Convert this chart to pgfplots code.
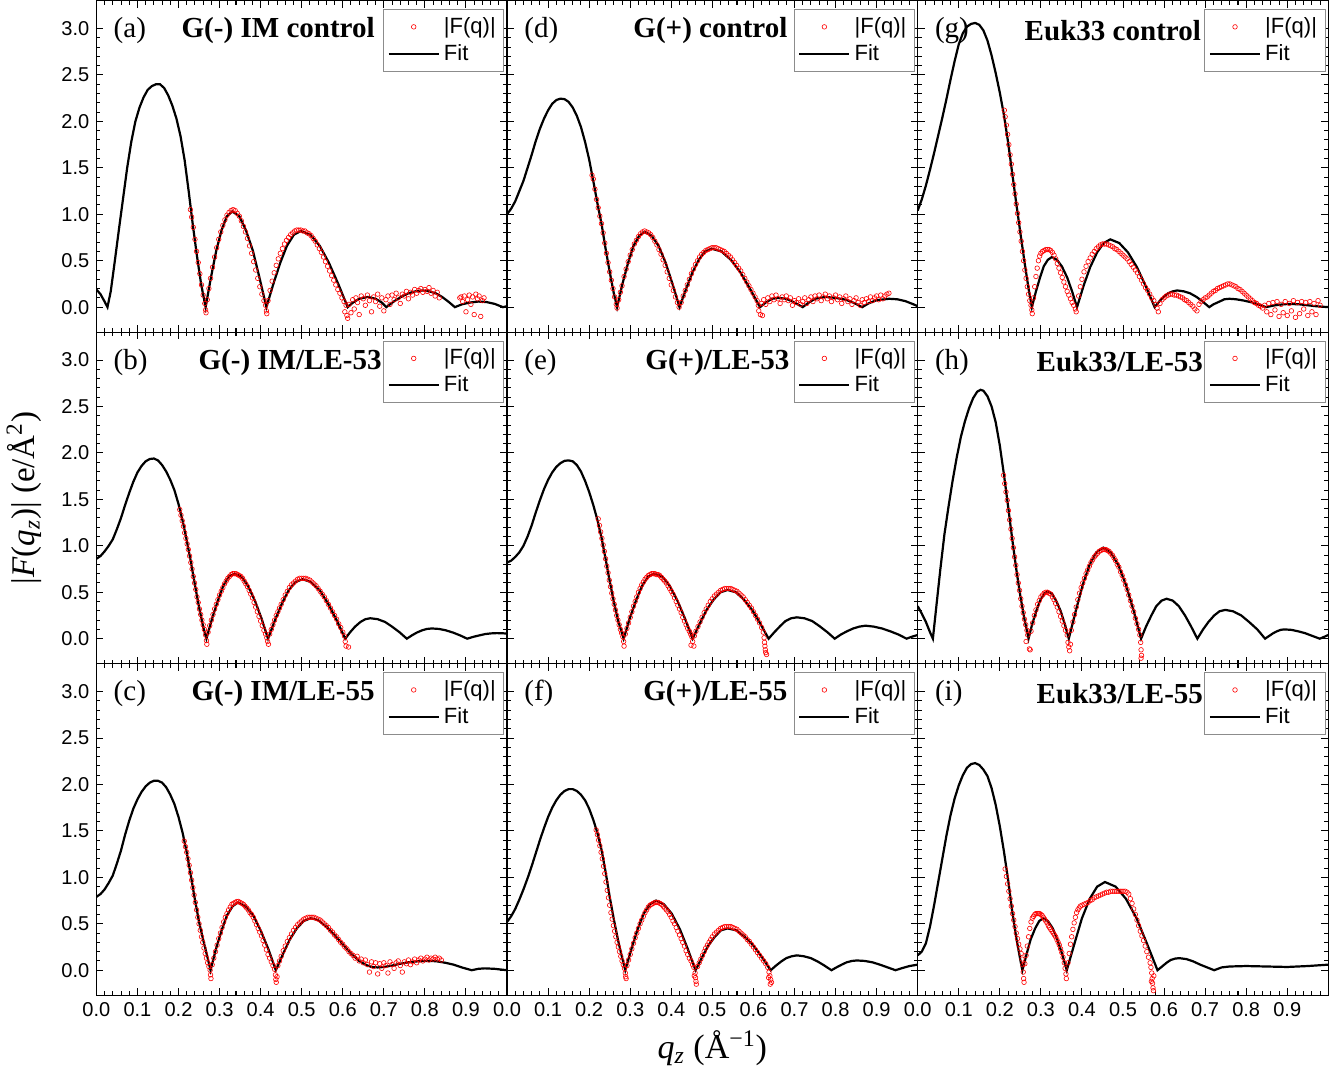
\documentclass[border=0pt]{standalone}
\usepackage{fontspec}
\setmainfont{Liberation Serif}
\newfontfamily\arial{Liberation Sans}
\usepackage{pgfplots}
\pgfplotsset{compat=1.18}
\usepgfplotslibrary{groupplots}

\pgfplotsset{
  panel/.style={
    width=205pt, height=165.5pt, scale only axis,
    xmin=0, xmax=1, ymin=-0.27, ymax=3.3,
    xtick={0,0.1,0.2,0.3,0.4,0.5,0.6,0.7,0.8,0.9,1.0},
    ytick={0,0.5,1.0,1.5,2.0,2.5,3.0},
    minor x tick num=4, minor y tick num=4,
    tick align=inside, major tick length=3.5pt, minor tick length=2pt,
    axis line style={line width=0.7pt},
    tick style={black, line width=0.5pt},
    tick label style={font=\arial\fontsize{10}{12}\selectfont},
    xticklabels={}, yticklabels={},
    legend cell align=left,
    legend style={at={(0.993,0.975)}, anchor=north east, draw=black!45,
      line width=0.4pt, fill=white, font=\arial\fontsize{11}{13}\selectfont,
      inner xsep=2pt, inner ysep=2pt, row sep=0pt},
    legend image code/.code={\draw[mark repeat=2,mark phase=2,##1]
      plot coordinates {(0cm,0cm) (0.44cm,0cm) (0.88cm,0cm)};},
  },
  leftcol/.style={yticklabels={0.0,0.5,1.0,1.5,2.0,2.5,3.0}},
  bottomrow/.style={xticklabels={0.0,0.1,0.2,0.3,0.4,0.5,0.6,0.7,0.8,0.9,{}}},
  fq/.style={only marks, mark=o, mark size=1.15pt, red, mark options={line width=0.3pt}},
  fit/.style={black, line width=1.1pt, mark=none},
}
\newcommand{\paneltext}[3]{%
  \node[anchor=west, font=\fontsize{14.5}{16}\selectfont] at (rel axis cs:0.025,0.91) {#1};
  \node[anchor=east, font=\bfseries\fontsize{14.5}{16}\selectfont] at (rel axis cs:#3,0.91) {#2};}

\begin{document}
\begin{tikzpicture}
\begin{groupplot}[group style={group size=3 by 3, horizontal sep=0pt, vertical sep=0pt}, panel]

% (a)
\nextgroupplot[leftcol]
\addplot[fq] coordinates {(0.229,1.05) (0.232,0.97) (0.236,0.86) (0.240,0.73) (0.244,0.60) (0.248,0.48) (0.252,0.36) (0.256,0.24) (0.260,0.13) (0.264,0.04) (0.266,-0.03) (0.267,-0.06) (0.270,0.08) (0.274,0.20) (0.278,0.31) (0.283,0.43) (0.288,0.54) (0.293,0.64) (0.298,0.73) (0.303,0.81) (0.308,0.88) (0.313,0.94) (0.318,0.99) (0.323,1.02) (0.328,1.04) (0.333,1.05) (0.338,1.04) (0.343,1.01) (0.348,0.98) (0.353,0.93) (0.358,0.87) (0.363,0.81) (0.368,0.74) (0.373,0.66) (0.378,0.58) (0.383,0.49) (0.388,0.40) (0.393,0.31) (0.398,0.22) (0.403,0.14) (0.408,0.07) (0.412,0.02) (0.414,-0.04) (0.415,-0.07) (0.418,0.07) (0.423,0.18) (0.428,0.28) (0.433,0.37) (0.438,0.45) (0.443,0.52) (0.448,0.58) (0.453,0.63) (0.458,0.68) (0.463,0.72) (0.468,0.75) (0.473,0.78) (0.478,0.80) (0.483,0.82) (0.488,0.83) (0.493,0.83) (0.498,0.83) (0.503,0.82) (0.508,0.82) (0.513,0.80) (0.518,0.79) (0.523,0.77) (0.528,0.74) (0.533,0.71) (0.538,0.67) (0.543,0.63) (0.548,0.59) (0.553,0.54) (0.558,0.49) (0.563,0.44) (0.568,0.39) (0.573,0.34) (0.578,0.29) (0.583,0.24) (0.588,0.19) (0.593,0.15) (0.598,0.10) (0.603,0.06) (0.608,0.02) (0.605,-0.05) (0.610,-0.09) (0.612,-0.12) (0.615,0.03) (0.620,-0.06) (0.624,0.08) (0.628,-0.02) (0.632,0.10) (0.636,0.05) (0.640,-0.08) (0.645,0.12) (0.650,0.09) (0.655,0.02) (0.660,0.13) (0.665,0.07) (0.670,-0.05) (0.675,0.11) (0.680,0.06) (0.685,0.14) (0.690,0.01) (0.695,0.10) (0.700,-0.04) (0.705,0.08) (0.710,0.12) (0.715,0.03) (0.720,0.13) (0.725,0.08) (0.730,0.15) (0.735,0.10) (0.740,0.04) (0.745,0.14) (0.750,0.12) (0.755,0.17) (0.760,0.09) (0.765,0.16) (0.770,0.13) (0.775,0.19) (0.780,0.15) (0.785,0.18) (0.790,0.20) (0.795,0.16) (0.800,0.19) (0.805,0.17) (0.810,0.21) (0.815,0.15) (0.820,0.18) (0.825,0.12) (0.830,0.16) (0.835,0.10) (0.885,0.10) (0.888,0.11) (0.892,0.06) (0.896,0.12) (0.900,-0.05) (0.904,0.08) (0.908,0.13) (0.912,0.03) (0.916,0.11) (0.920,-0.08) (0.924,0.14) (0.928,0.09) (0.932,0.12) (0.936,-0.10) (0.940,0.07) (0.944,0.10)};
\addplot[fit] coordinates {(0,0.19) (0.01,0.14) (0.02,0.06) (0.027,0) (0.035,0.17) (0.045,0.50) (0.055,0.84) (0.065,1.17) (0.075,1.50) (0.085,1.78) (0.095,2.00) (0.105,2.15) (0.115,2.26) (0.125,2.34) (0.135,2.38) (0.145,2.40) (0.155,2.40) (0.165,2.36) (0.175,2.28) (0.185,2.17) (0.195,2.03) (0.205,1.84) (0.215,1.58) (0.225,1.24) (0.235,0.88) (0.245,0.55) (0.255,0.25) (0.266,0) (0.279,0.32) (0.292,0.61) (0.305,0.83) (0.318,0.98) (0.331,1.03) (0.348,0.98) (0.364,0.83) (0.381,0.61) (0.397,0.32) (0.414,0) (0.431,0.25) (0.448,0.48) (0.464,0.66) (0.481,0.78) (0.498,0.82) (0.521,0.78) (0.544,0.66) (0.566,0.48) (0.589,0.25) (0.612,0) (0.625,0.05) (0.64,0.09) (0.661,0.11) (0.68,0.09) (0.695,0.05) (0.706,0) (0.724,0.06) (0.742,0.11) (0.76,0.15) (0.777,0.17) (0.795,0.18) (0.811,0.17) (0.826,0.15) (0.842,0.11) (0.857,0.06) (0.873,0) (0.89,0.03) (0.91,0.05) (0.93,0.06) (0.95,0.055) (0.97,0.035) (0.99,0) (1.0,0.01)};
\legend{|F(q)|,Fit}
\paneltext{(a)}{G(-) IM control}{0.695}
\node[anchor=south, inner sep=0pt, minimum height=3.5pt] at (rel axis cs:0.5,1) {};

% (d)
\nextgroupplot
\addplot[fq] coordinates {(0.207,1.42) (0.210,1.38) (0.214,1.27) (0.218,1.16) (0.222,1.07) (0.226,0.98) (0.230,0.90) (0.234,0.80) (0.238,0.69) (0.242,0.58) (0.246,0.48) (0.250,0.38) (0.254,0.29) (0.258,0.20) (0.262,0.11) (0.266,0.03) (0.268,-0.01) (0.272,0.08) (0.276,0.16) (0.280,0.23) (0.285,0.33) (0.290,0.41) (0.295,0.49) (0.300,0.56) (0.305,0.62) (0.310,0.68) (0.315,0.72) (0.320,0.76) (0.325,0.79) (0.330,0.81) (0.335,0.82) (0.340,0.81) (0.345,0.80) (0.350,0.78) (0.355,0.75) (0.360,0.71) (0.365,0.67) (0.370,0.62) (0.375,0.57) (0.380,0.51) (0.385,0.45) (0.390,0.38) (0.395,0.31) (0.400,0.24) (0.405,0.18) (0.410,0.11) (0.415,0.05) (0.419,0.0) (0.424,0.05) (0.429,0.12) (0.434,0.18) (0.439,0.24) (0.444,0.30) (0.449,0.36) (0.454,0.41) (0.459,0.46) (0.464,0.50) (0.469,0.54) (0.474,0.57) (0.479,0.59) (0.484,0.61) (0.489,0.62) (0.494,0.63) (0.499,0.64) (0.504,0.64) (0.509,0.64) (0.514,0.63) (0.519,0.62) (0.524,0.61) (0.529,0.60) (0.534,0.58) (0.539,0.56) (0.544,0.54) (0.549,0.51) (0.554,0.48) (0.559,0.45) (0.564,0.42) (0.569,0.39) (0.574,0.35) (0.579,0.31) (0.584,0.27) (0.589,0.23) (0.594,0.19) (0.599,0.15) (0.604,0.11) (0.609,0.07) (0.612,0.02) (0.613,-0.04) (0.617,-0.08) (0.622,-0.09) (0.620,0.04) (0.625,0.08) (0.630,0.03) (0.635,0.10) (0.640,0.06) (0.645,0.12) (0.650,0.08) (0.655,0.13) (0.660,0.09) (0.665,0.04) (0.670,0.11) (0.675,0.08) (0.680,0.12) (0.685,0.07) (0.690,0.10) (0.695,0.02) (0.700,0.07) (0.705,0.05) (0.710,0.09) (0.715,0.03) (0.720,0.06) (0.725,0.10) (0.730,0.04) (0.735,0.08) (0.740,0.11) (0.745,0.06) (0.750,0.12) (0.755,0.09) (0.760,0.13) (0.765,0.07) (0.770,0.11) (0.775,0.14) (0.780,0.09) (0.785,0.12) (0.790,0.06) (0.795,0.10) (0.800,0.13) (0.805,0.08) (0.810,0.11) (0.815,0.04) (0.820,0.09) (0.825,0.12) (0.830,0.06) (0.835,0.09) (0.840,0.03) (0.845,0.07) (0.850,0.10) (0.855,0.05) (0.860,0.02) (0.865,0.08) (0.870,0.05) (0.875,0.09) (0.880,0.06) (0.885,0.11) (0.890,0.07) (0.895,0.10) (0.900,0.12) (0.905,0.08) (0.910,0.13) (0.915,0.09) (0.920,0.12) (0.925,0.14) (0.930,0.15)};
\addplot[fit] coordinates {(0,1.00) (0.01,1.06) (0.02,1.14) (0.03,1.25) (0.04,1.36) (0.05,1.50) (0.06,1.64) (0.07,1.79) (0.08,1.92) (0.09,2.03) (0.10,2.12) (0.11,2.19) (0.12,2.23) (0.13,2.245) (0.14,2.24) (0.15,2.21) (0.16,2.15) (0.17,2.06) (0.18,1.94) (0.19,1.78) (0.20,1.59) (0.21,1.36) (0.22,1.12) (0.23,0.90) (0.24,0.63) (0.25,0.38) (0.26,0.15) (0.268,0) (0.281,0.25) (0.295,0.48) (0.308,0.66) (0.322,0.77) (0.335,0.81) (0.352,0.77) (0.369,0.66) (0.386,0.48) (0.403,0.25) (0.42,0) (0.436,0.195) (0.451,0.37) (0.467,0.51) (0.482,0.60) (0.498,0.63) (0.522,0.60) (0.545,0.51) (0.569,0.37) (0.592,0.195) (0.616,0) (0.63,0.05) (0.645,0.09) (0.661,0.10) (0.68,0.09) (0.70,0.05) (0.72,0) (0.735,0.05) (0.75,0.09) (0.775,0.11) (0.80,0.10) (0.825,0.08) (0.845,0.045) (0.865,0) (0.88,0.04) (0.90,0.075) (0.93,0.09) (0.95,0.085) (0.97,0.065) (0.99,0.03) (1.0,0.01)};
\legend{|F(q)|,Fit}
\paneltext{(d)}{G(+) control}{0.70}

% (g)
\nextgroupplot
\addplot[fq] coordinates {(0.211,2.12) (0.213,2.05) (0.216,1.96) (0.219,1.86) (0.222,1.75) (0.225,1.64) (0.228,1.54) (0.231,1.43) (0.234,1.32) (0.237,1.22) (0.240,1.11) (0.243,1.01) (0.246,0.91) (0.249,0.81) (0.252,0.71) (0.255,0.60) (0.258,0.50) (0.261,0.40) (0.264,0.31) (0.267,0.22) (0.270,0.14) (0.273,0.07) (0.276,0.02) (0.278,-0.03) (0.279,-0.07) (0.282,0.10) (0.285,0.22) (0.288,0.33) (0.291,0.42) (0.294,0.50) (0.297,0.55) (0.300,0.58) (0.304,0.60) (0.308,0.61) (0.312,0.62) (0.316,0.62) (0.320,0.62) (0.324,0.61) (0.328,0.59) (0.332,0.56) (0.336,0.52) (0.340,0.47) (0.344,0.42) (0.348,0.37) (0.352,0.32) (0.356,0.27) (0.360,0.22) (0.364,0.17) (0.368,0.13) (0.372,0.09) (0.376,0.05) (0.380,0.02) (0.384,-0.02) (0.386,-0.05) (0.392,0.12) (0.396,0.22) (0.400,0.30) (0.405,0.38) (0.410,0.44) (0.415,0.49) (0.420,0.53) (0.425,0.57) (0.430,0.60) (0.435,0.63) (0.440,0.65) (0.445,0.67) (0.450,0.68) (0.455,0.68) (0.460,0.68) (0.465,0.67) (0.470,0.66) (0.475,0.65) (0.480,0.63) (0.485,0.62) (0.490,0.60) (0.495,0.58) (0.500,0.56) (0.505,0.54) (0.510,0.52) (0.515,0.49) (0.520,0.46) (0.525,0.43) (0.530,0.40) (0.535,0.37) (0.540,0.33) (0.545,0.29) (0.550,0.25) (0.555,0.21) (0.560,0.18) (0.565,0.14) (0.570,0.10) (0.575,0.07) (0.580,0.03) (0.583,-0.01) (0.586,-0.05) (0.590,0.04) (0.595,0.08) (0.600,0.10) (0.605,0.12) (0.610,0.13) (0.615,0.14) (0.620,0.14) (0.625,0.13) (0.630,0.13) (0.635,0.12) (0.640,0.11) (0.645,0.10) (0.650,0.08) (0.655,0.07) (0.660,0.05) (0.665,0.03) (0.670,0.01) (0.675,-0.02) (0.680,-0.04) (0.685,0.03) (0.690,0.06) (0.695,0.08) (0.700,0.10) (0.705,0.11) (0.710,0.13) (0.715,0.15) (0.720,0.17) (0.725,0.18) (0.730,0.20) (0.735,0.21) (0.740,0.22) (0.745,0.23) (0.750,0.24) (0.755,0.25) (0.760,0.25) (0.765,0.24) (0.770,0.23) (0.775,0.22) (0.780,0.20) (0.785,0.19) (0.790,0.17) (0.795,0.15) (0.800,0.13) (0.805,0.11) (0.810,0.09) (0.815,0.07) (0.820,0.05) (0.825,0.04) (0.830,0.02) (0.835,0.01) (0.840,-0.01) (0.845,0.02) (0.850,-0.05) (0.855,0.04) (0.860,-0.08) (0.865,0.05) (0.870,-0.03) (0.875,0.06) (0.880,-0.10) (0.885,0.03) (0.890,-0.06) (0.895,0.06) (0.900,-0.09) (0.905,0.04) (0.910,-0.04) (0.915,0.07) (0.920,-0.11) (0.925,0.05) (0.930,-0.07) (0.935,0.06) (0.940,-0.02) (0.945,0.05) (0.950,-0.09) (0.955,0.06) (0.960,-0.05) (0.965,0.04) (0.970,-0.08) (0.975,0.07) (0.980,0.02)};
\addplot[fit] coordinates {(0,1.04) (0.01,1.16) (0.02,1.31) (0.03,1.48) (0.04,1.66) (0.05,1.85) (0.06,2.04) (0.07,2.24) (0.08,2.45) (0.09,2.65) (0.10,2.83) (0.11,2.95) (0.12,3.02) (0.13,3.05) (0.14,3.06) (0.15,3.04) (0.16,2.98) (0.17,2.87) (0.18,2.71) (0.19,2.52) (0.20,2.31) (0.21,2.07) (0.22,1.78) (0.23,1.45) (0.24,1.12) (0.25,0.80) (0.26,0.49) (0.27,0.20) (0.278,0) (0.288,0.17) (0.298,0.32) (0.307,0.44) (0.317,0.51) (0.327,0.54) (0.339,0.51) (0.351,0.44) (0.364,0.32) (0.376,0.17) (0.388,0) (0.404,0.23) (0.420,0.43) (0.437,0.59) (0.453,0.69) (0.469,0.73) (0.491,0.69) (0.512,0.59) (0.534,0.43) (0.555,0.23) (0.577,0) (0.588,0.06) (0.599,0.11) (0.61,0.15) (0.621,0.17) (0.632,0.18) (0.648,0.17) (0.663,0.15) (0.679,0.11) (0.694,0.06) (0.71,0) (0.72,0.03) (0.735,0.06) (0.747,0.085) (0.759,0.09) (0.775,0.085) (0.795,0.07) (0.815,0.05) (0.83,0.03) (0.848,0) (0.87,0.02) (0.89,0.03) (0.905,0.035) (0.93,0.03) (0.95,0.02) (0.97,0.01) (1.0,0.0)};
\legend{|F(q)|,Fit}
\paneltext{(g)}{Euk33 control}{0.707}

% (b)
\nextgroupplot[leftcol, ylabel={|\textit{F}(\textit{q}\textsubscript{\textit{z}})| (e/Å\textsuperscript{2})}, ylabel style={font=\fontsize{16.5}{18}\selectfont}, ylabel shift=3pt]
\addplot[fq] coordinates {(0.203,1.39) (0.206,1.33) (0.209,1.27) (0.212,1.21) (0.215,1.14) (0.218,1.08) (0.221,1.02) (0.224,0.96) (0.227,0.89) (0.230,0.82) (0.233,0.75) (0.236,0.67) (0.239,0.60) (0.242,0.53) (0.245,0.45) (0.248,0.39) (0.251,0.32) (0.254,0.26) (0.257,0.20) (0.260,0.15) (0.263,0.10) (0.266,0.04) (0.268,-0.02) (0.269,-0.06) (0.272,0.07) (0.276,0.14) (0.280,0.20) (0.284,0.26) (0.288,0.32) (0.292,0.37) (0.296,0.42) (0.300,0.47) (0.304,0.51) (0.308,0.55) (0.312,0.59) (0.316,0.62) (0.320,0.65) (0.324,0.67) (0.328,0.69) (0.332,0.70) (0.336,0.70) (0.340,0.70) (0.344,0.69) (0.348,0.68) (0.352,0.67) (0.356,0.65) (0.360,0.62) (0.364,0.59) (0.368,0.56) (0.372,0.52) (0.376,0.48) (0.380,0.44) (0.384,0.39) (0.388,0.34) (0.392,0.29) (0.396,0.24) (0.400,0.19) (0.404,0.14) (0.408,0.09) (0.412,0.05) (0.415,0.01) (0.417,-0.03) (0.419,-0.06) (0.422,0.05) (0.426,0.10) (0.430,0.15) (0.434,0.20) (0.438,0.25) (0.442,0.29) (0.446,0.33) (0.450,0.37) (0.455,0.42) (0.460,0.47) (0.465,0.51) (0.470,0.55) (0.475,0.58) (0.480,0.60) (0.485,0.62) (0.490,0.64) (0.495,0.65) (0.500,0.65) (0.505,0.65) (0.510,0.65) (0.515,0.64) (0.520,0.63) (0.525,0.61) (0.530,0.59) (0.535,0.57) (0.540,0.54) (0.545,0.51) (0.550,0.48) (0.555,0.45) (0.560,0.41) (0.565,0.37) (0.570,0.33) (0.575,0.29) (0.580,0.25) (0.585,0.21) (0.590,0.16) (0.595,0.12) (0.600,0.07) (0.604,0.03) (0.606,-0.03) (0.608,-0.08) (0.614,-0.09)};
\addplot[fit] coordinates {(0,0.86) (0.01,0.89) (0.02,0.94) (0.03,1.00) (0.04,1.07) (0.05,1.18) (0.06,1.30) (0.07,1.44) (0.08,1.57) (0.09,1.69) (0.10,1.79) (0.11,1.86) (0.12,1.91) (0.13,1.935) (0.14,1.94) (0.15,1.92) (0.16,1.87) (0.17,1.80) (0.18,1.71) (0.19,1.60) (0.20,1.45) (0.21,1.27) (0.22,1.06) (0.23,0.83) (0.24,0.58) (0.25,0.34) (0.26,0.13) (0.268,0) (0.282,0.22) (0.296,0.41) (0.309,0.57) (0.323,0.67) (0.337,0.70) (0.353,0.67) (0.369,0.57) (0.386,0.41) (0.402,0.22) (0.418,0) (0.435,0.20) (0.452,0.38) (0.468,0.52) (0.485,0.61) (0.502,0.64) (0.523,0.61) (0.544,0.52) (0.564,0.38) (0.585,0.20) (0.606,0) (0.618,0.07) (0.630,0.13) (0.643,0.18) (0.655,0.21) (0.667,0.22) (0.685,0.21) (0.703,0.18) (0.720,0.13) (0.738,0.07) (0.756,0) (0.768,0.035) (0.78,0.065) (0.793,0.09) (0.805,0.105) (0.817,0.11) (0.834,0.105) (0.851,0.09) (0.869,0.065) (0.886,0.035) (0.903,0) (0.918,0.02) (0.932,0.035) (0.947,0.05) (0.961,0.057) (0.975,0.06) (0.99,0.058) (1.0,0.055)};
\legend{|F(q)|,Fit}
\paneltext{(b)}{G(-) IM/LE-53}{0.712}

% (e)
\nextgroupplot
\addplot[fq] coordinates {(0.222,1.29) (0.225,1.22) (0.228,1.15) (0.231,1.08) (0.234,1.01) (0.237,0.94) (0.240,0.86) (0.243,0.78) (0.246,0.71) (0.249,0.63) (0.252,0.56) (0.255,0.49) (0.258,0.43) (0.261,0.37) (0.264,0.31) (0.267,0.25) (0.270,0.20) (0.273,0.15) (0.276,0.10) (0.279,0.06) (0.282,0.02) (0.284,-0.03) (0.285,-0.08) (0.288,0.05) (0.292,0.11) (0.296,0.17) (0.300,0.23) (0.304,0.29) (0.308,0.35) (0.312,0.40) (0.316,0.45) (0.320,0.50) (0.324,0.54) (0.328,0.58) (0.332,0.61) (0.336,0.64) (0.340,0.66) (0.344,0.68) (0.348,0.69) (0.352,0.70) (0.356,0.70) (0.360,0.70) (0.364,0.69) (0.368,0.69) (0.372,0.68) (0.376,0.66) (0.380,0.64) (0.384,0.62) (0.388,0.60) (0.392,0.57) (0.396,0.54) (0.400,0.51) (0.404,0.48) (0.408,0.44) (0.412,0.40) (0.416,0.36) (0.420,0.32) (0.424,0.28) (0.428,0.23) (0.432,0.19) (0.436,0.15) (0.440,0.11) (0.444,0.08) (0.447,0.05) (0.450,0.02) (0.452,-0.03) (0.455,-0.08) (0.448,-0.07) (0.456,0.03) (0.460,0.08) (0.465,0.13) (0.470,0.18) (0.475,0.23) (0.480,0.28) (0.485,0.32) (0.490,0.36) (0.495,0.40) (0.500,0.43) (0.505,0.46) (0.510,0.48) (0.515,0.50) (0.520,0.52) (0.525,0.53) (0.530,0.54) (0.535,0.54) (0.540,0.54) (0.545,0.54) (0.550,0.53) (0.555,0.52) (0.560,0.51) (0.565,0.49) (0.570,0.47) (0.575,0.45) (0.580,0.42) (0.585,0.39) (0.590,0.36) (0.595,0.33) (0.600,0.29) (0.605,0.25) (0.610,0.21) (0.615,0.17) (0.620,0.12) (0.624,0.07) (0.626,0.01) (0.627,-0.04) (0.628,-0.08) (0.629,-0.12) (0.630,-0.15) (0.632,-0.17)};
\addplot[fit] coordinates {(0,0.82) (0.01,0.84) (0.02,0.88) (0.03,0.93) (0.04,1.00) (0.05,1.10) (0.06,1.22) (0.07,1.36) (0.08,1.49) (0.09,1.61) (0.10,1.71) (0.11,1.79) (0.12,1.85) (0.13,1.89) (0.14,1.915) (0.15,1.92) (0.16,1.91) (0.17,1.87) (0.18,1.80) (0.19,1.70) (0.20,1.58) (0.21,1.44) (0.22,1.28) (0.23,1.09) (0.24,0.86) (0.25,0.62) (0.26,0.40) (0.27,0.20) (0.284,0) (0.299,0.22) (0.314,0.41) (0.329,0.57) (0.344,0.67) (0.359,0.70) (0.378,0.67) (0.396,0.57) (0.415,0.41) (0.433,0.22) (0.452,0) (0.469,0.16) (0.486,0.31) (0.503,0.42) (0.520,0.50) (0.537,0.525) (0.557,0.50) (0.577,0.42) (0.597,0.31) (0.617,0.16) (0.637,0) (0.651,0.07) (0.665,0.135) (0.678,0.19) (0.692,0.22) (0.706,0.23) (0.724,0.22) (0.743,0.19) (0.761,0.135) (0.780,0.07) (0.798,0) (0.813,0.045) (0.828,0.08) (0.843,0.11) (0.858,0.13) (0.873,0.14) (0.893,0.13) (0.913,0.11) (0.933,0.08) (0.953,0.045) (0.973,0) (0.985,0.02) (1.0,0.04)};
\legend{|F(q)|,Fit}
\paneltext{(e)}{G(+)/LE-53}{0.705}

% (h)
\nextgroupplot
\addplot[fq] coordinates {(0.209,1.76) (0.212,1.67) (0.215,1.58) (0.218,1.49) (0.221,1.38) (0.224,1.28) (0.227,1.18) (0.230,1.08) (0.233,0.98) (0.236,0.88) (0.239,0.79) (0.242,0.69) (0.245,0.60) (0.248,0.52) (0.251,0.43) (0.254,0.35) (0.257,0.28) (0.260,0.21) (0.263,0.15) (0.266,0.09) (0.268,0.04) (0.264,-0.03) (0.272,-0.11) (0.274,-0.12) (0.276,0.08) (0.280,0.17) (0.284,0.25) (0.288,0.31) (0.292,0.37) (0.296,0.41) (0.300,0.45) (0.304,0.47) (0.308,0.49) (0.312,0.50) (0.316,0.50) (0.320,0.49) (0.324,0.48) (0.328,0.45) (0.332,0.42) (0.336,0.38) (0.340,0.34) (0.344,0.29) (0.348,0.24) (0.352,0.19) (0.356,0.14) (0.360,0.09) (0.364,0.04) (0.366,-0.04) (0.368,-0.09) (0.370,-0.13) (0.372,-0.06) (0.374,0.09) (0.378,0.18) (0.382,0.26) (0.386,0.34) (0.390,0.42) (0.394,0.49) (0.398,0.55) (0.402,0.60) (0.406,0.65) (0.410,0.70) (0.414,0.74) (0.418,0.78) (0.422,0.82) (0.426,0.85) (0.430,0.88) (0.434,0.90) (0.438,0.92) (0.442,0.94) (0.446,0.95) (0.450,0.96) (0.454,0.96) (0.458,0.96) (0.462,0.95) (0.466,0.94) (0.470,0.92) (0.474,0.90) (0.478,0.87) (0.482,0.84) (0.486,0.80) (0.490,0.77) (0.494,0.72) (0.498,0.68) (0.502,0.63) (0.506,0.58) (0.510,0.53) (0.514,0.47) (0.518,0.41) (0.522,0.35) (0.526,0.29) (0.530,0.22) (0.534,0.16) (0.538,0.10) (0.541,0.04) (0.543,-0.04) (0.544,-0.12) (0.545,-0.18) (0.544,-0.21)};
\addplot[fit] coordinates {(0,0.35) (0.01,0.27) (0.02,0.18) (0.03,0.07) (0.037,0) (0.045,0.33) (0.055,0.74) (0.065,1.12) (0.075,1.42) (0.085,1.70) (0.095,1.95) (0.105,2.17) (0.115,2.34) (0.125,2.48) (0.135,2.59) (0.145,2.66) (0.153,2.68) (0.16,2.67) (0.17,2.61) (0.18,2.50) (0.19,2.33) (0.20,2.08) (0.21,1.77) (0.22,1.43) (0.23,1.08) (0.24,0.75) (0.25,0.46) (0.26,0.21) (0.27,0) (0.279,0.16) (0.289,0.30) (0.298,0.41) (0.308,0.485) (0.317,0.51) (0.327,0.485) (0.337,0.41) (0.348,0.30) (0.358,0.16) (0.368,0) (0.385,0.30) (0.402,0.58) (0.418,0.79) (0.435,0.93) (0.452,0.98) (0.470,0.93) (0.489,0.79) (0.507,0.58) (0.526,0.30) (0.544,0) (0.556,0.13) (0.569,0.25) (0.581,0.35) (0.594,0.41) (0.606,0.43) (0.621,0.41) (0.636,0.35) (0.651,0.25) (0.666,0.13) (0.681,0) (0.695,0.10) (0.708,0.18) (0.722,0.25) (0.735,0.295) (0.749,0.31) (0.768,0.295) (0.788,0.25) (0.807,0.18) (0.827,0.10) (0.846,0) (0.856,0.03) (0.866,0.06) (0.875,0.08) (0.884,0.095) (0.893,0.10) (0.91,0.095) (0.926,0.08) (0.943,0.06) (0.961,0.03) (0.979,0) (0.99,0.02) (1.0,0.04)};
\legend{|F(q)|,Fit}
\paneltext{(h)}{Euk33/LE-53}{0.712}

% (c)
\nextgroupplot[leftcol, bottomrow]
\addplot[fq] coordinates {(0.214,1.39) (0.217,1.33) (0.220,1.27) (0.223,1.20) (0.226,1.13) (0.229,1.05) (0.232,0.97) (0.235,0.89) (0.238,0.81) (0.241,0.73) (0.244,0.65) (0.247,0.57) (0.250,0.50) (0.253,0.43) (0.256,0.36) (0.259,0.30) (0.262,0.24) (0.265,0.18) (0.268,0.13) (0.271,0.08) (0.274,0.04) (0.277,0.0) (0.278,-0.05) (0.279,-0.09) (0.282,0.06) (0.286,0.13) (0.290,0.20) (0.294,0.27) (0.298,0.34) (0.302,0.40) (0.306,0.46) (0.310,0.52) (0.314,0.57) (0.318,0.61) (0.322,0.65) (0.326,0.68) (0.330,0.71) (0.334,0.72) (0.338,0.73) (0.342,0.74) (0.346,0.74) (0.350,0.73) (0.354,0.72) (0.358,0.71) (0.362,0.69) (0.366,0.67) (0.370,0.65) (0.374,0.62) (0.378,0.60) (0.382,0.57) (0.386,0.53) (0.390,0.49) (0.394,0.45) (0.398,0.41) (0.402,0.37) (0.406,0.32) (0.410,0.27) (0.414,0.22) (0.418,0.17) (0.422,0.13) (0.426,0.09) (0.430,0.05) (0.434,0.01) (0.436,-0.05) (0.437,-0.10) (0.438,-0.13) (0.440,-0.07) (0.442,0.05) (0.446,0.10) (0.450,0.15) (0.455,0.21) (0.460,0.26) (0.465,0.31) (0.470,0.35) (0.475,0.39) (0.480,0.43) (0.485,0.46) (0.490,0.49) (0.495,0.51) (0.500,0.53) (0.505,0.55) (0.510,0.56) (0.515,0.57) (0.520,0.57) (0.525,0.57) (0.530,0.57) (0.535,0.56) (0.540,0.55) (0.545,0.54) (0.550,0.52) (0.555,0.50) (0.560,0.48) (0.565,0.46) (0.570,0.43) (0.575,0.41) (0.580,0.38) (0.585,0.36) (0.590,0.33) (0.595,0.30) (0.600,0.28) (0.605,0.25) (0.610,0.23) (0.615,0.20) (0.620,0.18) (0.625,0.16) (0.630,0.13) (0.635,0.15) (0.640,0.10) (0.645,0.12) (0.650,0.08) (0.655,0.11) (0.660,0.06) (0.665,-0.02) (0.670,0.09) (0.675,0.04) (0.680,0.08) (0.685,-0.04) (0.690,0.07) (0.695,0.02) (0.700,0.08) (0.705,0.05) (0.710,-0.03) (0.715,0.09) (0.720,0.06) (0.725,0.02) (0.730,0.08) (0.735,0.10) (0.740,0.05) (0.745,-0.02) (0.750,0.09) (0.755,0.07) (0.760,0.11) (0.765,0.06) (0.770,0.09) (0.775,0.12) (0.780,0.08) (0.785,0.11) (0.790,0.13) (0.795,0.10) (0.800,0.12) (0.805,0.14) (0.810,0.11) (0.815,0.13) (0.820,0.12) (0.825,0.14) (0.830,0.12) (0.835,0.13) (0.840,0.11)};
\addplot[fit] coordinates {(0,0.79) (0.01,0.82) (0.02,0.87) (0.03,0.94) (0.04,1.02) (0.05,1.15) (0.06,1.29) (0.07,1.46) (0.08,1.61) (0.09,1.74) (0.10,1.84) (0.11,1.92) (0.12,1.98) (0.13,2.02) (0.14,2.04) (0.15,2.04) (0.16,2.02) (0.17,1.97) (0.18,1.89) (0.19,1.79) (0.20,1.65) (0.21,1.48) (0.22,1.27) (0.23,1.02) (0.24,0.76) (0.25,0.52) (0.26,0.33) (0.27,0.15) (0.278,0) (0.291,0.225) (0.305,0.43) (0.318,0.59) (0.332,0.69) (0.345,0.73) (0.363,0.69) (0.382,0.59) (0.400,0.43) (0.419,0.225) (0.437,0) (0.454,0.17) (0.471,0.33) (0.488,0.45) (0.505,0.53) (0.522,0.56) (0.54,0.54) (0.56,0.47) (0.58,0.38) (0.60,0.28) (0.62,0.18) (0.64,0.10) (0.655,0.06) (0.67,0.035) (0.685,0.03) (0.70,0.035) (0.72,0.05) (0.74,0.07) (0.76,0.085) (0.78,0.095) (0.80,0.10) (0.816,0.10) (0.83,0.095) (0.85,0.08) (0.87,0.06) (0.89,0.03) (0.914,0.0) (0.93,0.015) (0.946,0.02) (0.97,0.015) (1.0,0.0)};
\legend{|F(q)|,Fit}
\paneltext{(c)}{G(-) IM/LE-55}{0.695}

% (f)
\nextgroupplot[bottomrow, xlabel={\textit{q}\textsubscript{\textit{z}} (Å\textsuperscript{−1})}, xlabel style={font=\fontsize{17}{19}\selectfont}]
\addplot[fq] coordinates {(0.217,1.51) (0.220,1.46) (0.223,1.40) (0.226,1.34) (0.229,1.27) (0.232,1.20) (0.235,1.12) (0.238,1.04) (0.241,0.95) (0.244,0.86) (0.247,0.78) (0.250,0.70) (0.253,0.62) (0.256,0.55) (0.259,0.48) (0.262,0.42) (0.265,0.36) (0.268,0.30) (0.271,0.25) (0.274,0.20) (0.277,0.15) (0.280,0.10) (0.283,0.06) (0.286,0.02) (0.288,-0.03) (0.289,-0.07) (0.290,-0.09) (0.292,0.05) (0.296,0.11) (0.300,0.17) (0.304,0.23) (0.308,0.29) (0.312,0.35) (0.316,0.40) (0.320,0.45) (0.324,0.50) (0.328,0.54) (0.332,0.58) (0.336,0.62) (0.340,0.65) (0.344,0.68) (0.348,0.70) (0.352,0.71) (0.356,0.72) (0.360,0.73) (0.364,0.73) (0.368,0.73) (0.372,0.72) (0.376,0.71) (0.380,0.69) (0.384,0.67) (0.388,0.65) (0.392,0.63) (0.396,0.60) (0.400,0.57) (0.404,0.53) (0.408,0.50) (0.412,0.46) (0.416,0.42) (0.420,0.38) (0.424,0.34) (0.428,0.30) (0.432,0.26) (0.436,0.21) (0.440,0.17) (0.444,0.13) (0.448,0.10) (0.452,0.06) (0.455,0.03) (0.458,-0.03) (0.459,-0.08) (0.460,-0.12) (0.461,-0.15) (0.456,-0.06) (0.464,0.04) (0.468,0.08) (0.472,0.12) (0.476,0.16) (0.480,0.20) (0.484,0.24) (0.488,0.27) (0.492,0.30) (0.496,0.33) (0.500,0.36) (0.505,0.39) (0.510,0.41) (0.515,0.43) (0.520,0.45) (0.525,0.46) (0.530,0.47) (0.535,0.47) (0.540,0.47) (0.545,0.47) (0.550,0.46) (0.555,0.45) (0.560,0.44) (0.565,0.42) (0.570,0.40) (0.575,0.38) (0.580,0.36) (0.585,0.33) (0.590,0.31) (0.595,0.28) (0.600,0.25) (0.605,0.22) (0.610,0.19) (0.615,0.16) (0.620,0.13) (0.625,0.10) (0.630,0.07) (0.635,0.03) (0.638,-0.02) (0.640,-0.06) (0.642,-0.10) (0.644,-0.13) (0.637,-0.08) (0.641,-0.15)};
\addplot[fit] coordinates {(0,0.52) (0.01,0.58) (0.02,0.66) (0.03,0.76) (0.04,0.87) (0.05,0.99) (0.06,1.12) (0.07,1.26) (0.08,1.40) (0.09,1.53) (0.10,1.65) (0.11,1.75) (0.12,1.83) (0.13,1.89) (0.14,1.93) (0.15,1.95) (0.16,1.95) (0.17,1.93) (0.18,1.89) (0.19,1.83) (0.20,1.74) (0.21,1.62) (0.22,1.48) (0.23,1.30) (0.24,1.06) (0.25,0.79) (0.26,0.55) (0.27,0.33) (0.28,0.14) (0.288,0) (0.303,0.23) (0.318,0.44) (0.333,0.61) (0.348,0.71) (0.363,0.75) (0.382,0.71) (0.401,0.61) (0.421,0.44) (0.440,0.23) (0.459,0) (0.475,0.14) (0.490,0.265) (0.506,0.36) (0.521,0.43) (0.537,0.45) (0.558,0.43) (0.579,0.36) (0.600,0.265) (0.621,0.14) (0.642,0) (0.655,0.05) (0.668,0.095) (0.680,0.13) (0.693,0.15) (0.706,0.16) (0.723,0.15) (0.740,0.13) (0.756,0.095) (0.773,0.05) (0.79,0) (0.802,0.03) (0.815,0.06) (0.827,0.085) (0.840,0.10) (0.852,0.105) (0.871,0.10) (0.89,0.085) (0.908,0.06) (0.927,0.03) (0.946,0) (0.96,0.02) (0.98,0.045) (1.0,0.06)};
\legend{|F(q)|,Fit}
\paneltext{(f)}{G(+)/LE-55}{0.70}

% (i)
\nextgroupplot[bottomrow]
\addplot[fq] coordinates {(0.213,1.09) (0.216,1.01) (0.219,0.93) (0.222,0.85) (0.225,0.77) (0.228,0.69) (0.231,0.61) (0.234,0.54) (0.237,0.47) (0.240,0.40) (0.243,0.34) (0.246,0.28) (0.249,0.23) (0.252,0.18) (0.254,0.12) (0.256,0.06) (0.257,-0.02) (0.258,-0.09) (0.259,-0.13) (0.261,0.07) (0.264,0.16) (0.267,0.26) (0.270,0.36) (0.273,0.45) (0.276,0.52) (0.279,0.56) (0.282,0.58) (0.285,0.60) (0.288,0.61) (0.291,0.61) (0.294,0.61) (0.297,0.61) (0.300,0.60) (0.303,0.59) (0.306,0.57) (0.309,0.55) (0.312,0.53) (0.315,0.51) (0.318,0.48) (0.321,0.46) (0.324,0.44) (0.327,0.42) (0.330,0.40) (0.333,0.38) (0.336,0.36) (0.339,0.33) (0.342,0.30) (0.345,0.27) (0.348,0.23) (0.351,0.19) (0.354,0.14) (0.357,0.08) (0.359,0.02) (0.361,-0.04) (0.362,-0.09) (0.366,0.08) (0.369,0.18) (0.372,0.28) (0.375,0.36) (0.378,0.44) (0.381,0.51) (0.384,0.57) (0.387,0.62) (0.390,0.65) (0.393,0.67) (0.396,0.69) (0.400,0.70) (0.405,0.71) (0.410,0.72) (0.415,0.73) (0.420,0.75) (0.425,0.76) (0.430,0.78) (0.435,0.79) (0.440,0.80) (0.445,0.81) (0.450,0.82) (0.455,0.83) (0.460,0.84) (0.465,0.84) (0.470,0.85) (0.475,0.85) (0.480,0.85) (0.485,0.85) (0.490,0.85) (0.495,0.85) (0.500,0.85) (0.505,0.85) (0.510,0.84) (0.514,0.82) (0.518,0.77) (0.522,0.72) (0.526,0.66) (0.530,0.60) (0.534,0.54) (0.538,0.48) (0.542,0.42) (0.546,0.37) (0.550,0.32) (0.554,0.26) (0.558,0.20) (0.562,0.14) (0.566,0.08) (0.568,0.03) (0.570,-0.03) (0.571,-0.09) (0.572,-0.14) (0.573,-0.19) (0.574,-0.22) (0.569,-0.12) (0.575,-0.06)};
\addplot[fit] coordinates {(0,0.16) (0.01,0.20) (0.02,0.29) (0.03,0.47) (0.04,0.70) (0.05,0.95) (0.06,1.20) (0.07,1.45) (0.08,1.67) (0.09,1.85) (0.10,1.99) (0.11,2.10) (0.12,2.18) (0.13,2.22) (0.14,2.23) (0.15,2.21) (0.16,2.16) (0.17,2.09) (0.18,1.96) (0.19,1.78) (0.20,1.55) (0.21,1.28) (0.22,0.98) (0.23,0.64) (0.24,0.35) (0.25,0.11) (0.255,0) (0.265,0.17) (0.275,0.33) (0.286,0.45) (0.296,0.53) (0.306,0.56) (0.317,0.53) (0.329,0.45) (0.340,0.33) (0.352,0.17) (0.363,0) (0.382,0.29) (0.400,0.56) (0.419,0.77) (0.437,0.90) (0.456,0.95) (0.482,0.90) (0.507,0.77) (0.533,0.56) (0.558,0.29) (0.584,0) (0.595,0.04) (0.606,0.08) (0.616,0.11) (0.627,0.125) (0.637,0.13) (0.654,0.12) (0.671,0.095) (0.688,0.06) (0.705,0.03) (0.722,0) (0.74,0.03) (0.759,0.04) (0.80,0.045) (0.85,0.04) (0.90,0.035) (0.95,0.045) (1.0,0.06)};
\legend{|F(q)|,Fit}
\paneltext{(i)}{Euk33/LE-55}{0.712}

\end{groupplot}
\end{tikzpicture}
\end{document}
